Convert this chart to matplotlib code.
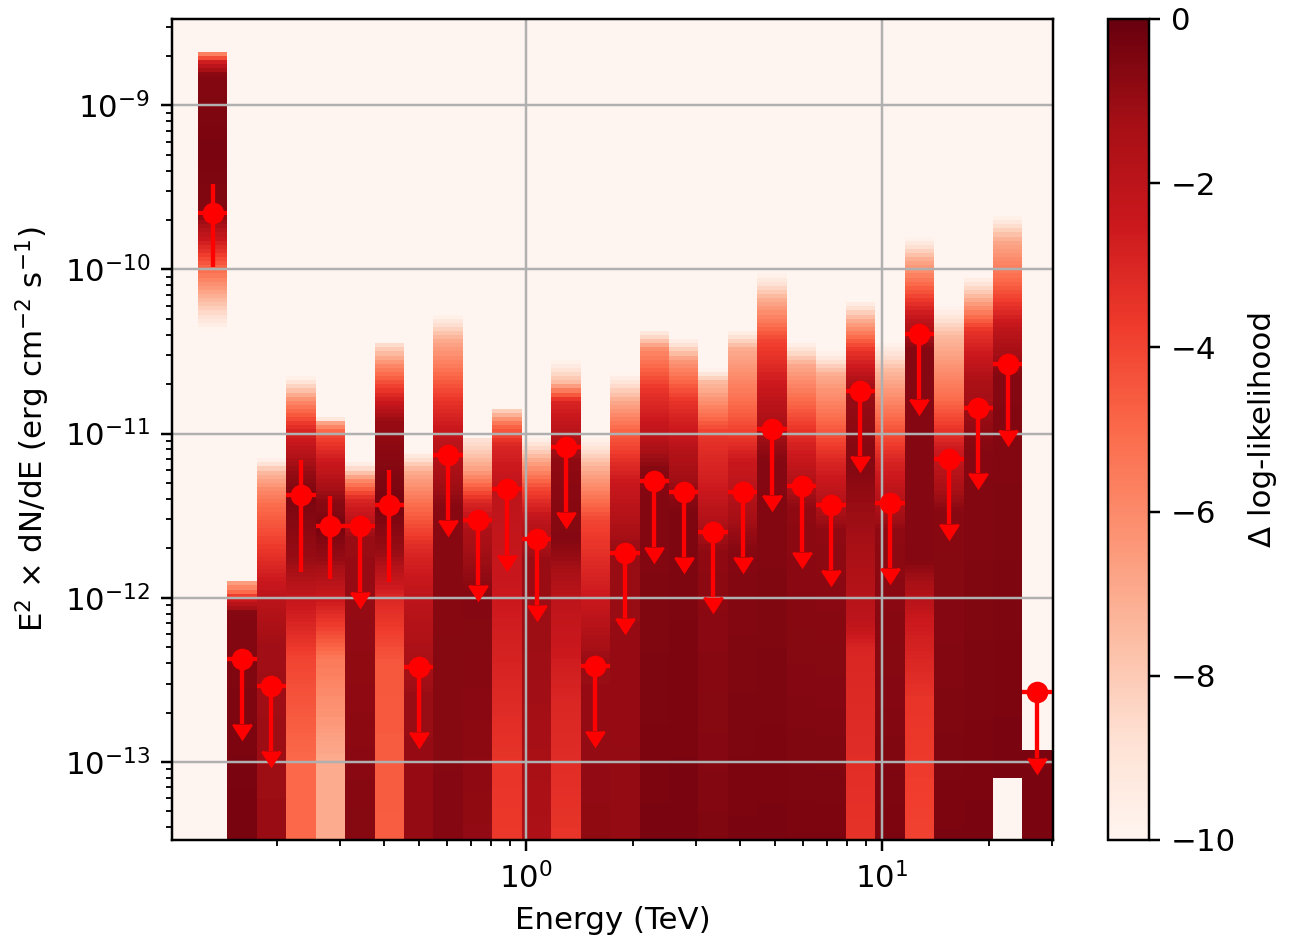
import numpy as np
import matplotlib.pyplot as plt

# energy bins (TeV): 29 log-spaced bins up to 30 TeV
e_edges = np.geomspace(0.12, 30.0, 30)
e_center = np.sqrt(e_edges[1:] * e_edges[:-1])

# E^2 dN/dE values (erg cm-2 s-1); upper limits flagged in is_ul
flux = [2.21e-10, 4.24e-13, 2.90e-13, 4.25e-12, 2.72e-12, 2.72e-12, 3.67e-12,
        3.81e-13, 7.39e-12, 2.99e-12, 4.57e-12, 2.27e-12, 8.28e-12, 3.86e-13,
        1.88e-12, 5.12e-12, 4.43e-12, 2.52e-12, 4.43e-12, 1.06e-11, 4.78e-12,
        3.67e-12, 1.82e-11, 3.79e-12, 4.04e-11, 7.00e-12, 1.43e-11, 2.64e-11,
        2.65e-13]
is_ul = [False, True, True, False, False, True, False] + [True] * 22
# 1 sigma range for the detected bins (None for upper limits)
flux_lo = [1.03e-10, None, None, 1.44e-12, 1.31e-12, None, 1.25e-12] + [None] * 22
flux_hi = [3.33e-10, None, None, 6.95e-12, 4.14e-12, None, 6.03e-12] + [None] * 22

# likelihood scan per bin: log10(E^2 dN/dE) and delta log-likelihood
scan_logflux = [
    [-10.37, -10.19, -10.0, -9.82, -9.67, -9.27, -8.82, -8.74, -8.683],
    [-13.6, -12.09, -12.01, -11.965, -11.898],
    [-13.6, -12.27, -11.99, -11.86, -11.67, -11.45, -11.34, -11.23, -11.15],
    [-13.6, -12.99, -12.38, -12.01, -11.77, -11.38, -11.22, -10.98, -10.80, -10.65],
    [-13.6, -12.99, -12.38, -12.01, -11.77, -11.57, -11.405, -11.174, -11.015, -10.93, -10.906],
    [-13.6, -11.636, -11.405, -11.283, -11.174],
    [-13.6, -12.40, -11.99, -11.72, -11.44, -10.92, -10.80, -10.58, -10.443],
    [-13.6, -12.62, -12.01, -11.72, -11.45, -11.23, -11.107],
    [-13.6, -11.45, -11.04, -10.80, -10.43, -10.27],
    [-13.6, -11.99, -11.59, -11.42, -11.23, -11.07, -11.015],
    [-13.6, -12.99, -12.01, -11.34, -11.07, -10.95, -10.851],
    [-13.6, -12.62, -11.77, -11.53, -11.34, -11.16, -11.015],
    [-13.6, -12.62, -12.01, -11.65, -11.17, -10.80, -10.69, -10.55],
    [-13.6, -12.38, -11.99, -11.53, -11.22, -11.015],
    [-13.6, -11.71, -11.28, -11.015, -10.80, -10.632],
    [-13.6, -11.22, -11.015, -10.735, -10.49, -10.364],
    [-13.6, -11.47, -11.10, -10.80, -10.55, -10.419],
    [-13.6, -11.72, -11.34, -11.015, -10.906, -10.686, -10.607],
    [-13.6, -11.72, -11.16, -10.906, -10.49, -10.364],
    [-13.6, -11.17, -10.80, -10.43, -10.19, -10.023],
    [-13.6, -11.45, -11.04, -10.80, -10.577, -10.443],
    [-13.6, -11.59, -11.17, -10.92, -10.644, -10.498],
    [-13.6, -12.32, -12.14, -11.17, -10.741, -10.498, -10.31, -10.187],
    [-13.6, -11.59, -11.16, -10.906, -10.613, -10.443],
    [-13.6, -12.62, -12.14, -11.77, -10.49, -10.31, -10.126, -9.944, -9.804],
    [-13.6, -11.47, -11.10, -10.796, -10.40, -10.224],
    [-13.6, -11.10, -10.674, -10.37, -10.187, -10.035],
    [-13.091, -10.644, -10.37, -10.065, -9.822, -9.670],
    [-13.6, -12.927],
]
scan_dloglike = [
    [-10, -7.5, -5, -2.5, -0.6, -0.4, -0.6, -2.5, -6],
    [-0.3, -0.6, -2.5, -5, -7],
    [-1.0, -1.2, -2.0, -2.7, -3.8, -5.0, -6.0, -7.5, -10],
    [-5, -5, -4, -2.3, -1, -0.4, -1, -3, -6, -10],
    [-7, -7, -5.5, -2.5, -1, -0.3, -0.8, -2.5, -4, -7, -10],
    [-0.6, -1, -3, -6, -10],
    [-4.7, -4.5, -3, -1, -0.3, -1, -2.5, -6, -9],
    [-0.9, -1, -2, -3, -5, -7, -10],
    [-0.6, -0.7, -2, -3.5, -7, -10],
    [-0.9, -0.6, -1.5, -3, -6.5, -8.5, -9],
    [-3.7, -3.5, -2.5, -2, -3, -5, -8.5],
    [-1.6, -1.2, -1, -2, -4, -7, -10],
    [-3.6, -3, -2, -0.6, -0.8, -3, -7.5, -10],
    [-0.8, -1, -2.5, -4, -7, -10],
    [-0.9, -1, -2.5, -4.5, -7, -10],
    [-0.4, -0.6, -2, -3.5, -6, -10],
    [-0.4, -0.5, -1.8, -3.5, -6.5, -10],
    [-0.5, -0.8, -2.5, -3.5, -5, -7.5, -10],
    [-0.4, -0.6, -2.5, -4.5, -7, -10],
    [-0.4, -0.6, -2, -4, -7, -10],
    [-0.4, -0.8, -3, -5, -7, -10],
    [-0.4, -0.8, -3, -5, -7, -10],
    [-3.5, -3, -2, -0.6, -1, -3.5, -7, -10],
    [-0.4, -0.8, -3, -5, -7.5, -10],
    [-4, -3.5, -2.5, -0.6, -0.6, -2, -4.5, -7, -10],
    [-0.4, -0.7, -2.5, -5, -7.5, -10],
    [-0.4, -0.6, -1.5, -3.5, -7, -10],
    [-0.4, -0.6, -2, -5, -7, -10],
    [-0.4, -0.4],
]

n_bins = len(flux)

# sample the scans on a common flux grid
y_edges = np.arange(-13.6, -8.38, 0.025)
y_mid = 0.5 * (y_edges[1:] + y_edges[:-1])
dll = np.full((len(y_mid), n_bins), np.nan)
for i in range(n_bins):
    dll[:, i] = np.interp(y_mid, scan_logflux[i], scan_dloglike[i],
                          left=np.nan, right=np.nan)

fig = plt.figure(figsize=(1290 / 222, 949 / 222), dpi=222)
ax = fig.add_axes([0.1333, 0.1149, 0.6829, 0.8651])
cax = fig.add_axes([0.8589, 0.1149, 0.0318, 0.8651])

cmap = plt.get_cmap('Reds')
ax.set_facecolor(cmap(0.0))
mesh = ax.pcolormesh(e_edges, 10 ** y_edges, np.ma.masked_invalid(dll),
                     cmap=cmap, vmin=-10, vmax=0, zorder=1)

x = np.array(e_center)
y = np.array(flux)
xerr = np.vstack([x - e_edges[:-1], e_edges[1:] - x])
yerr_lo = [y[i] - flux_lo[i] if not is_ul[i] else 0.6 * y[i] for i in range(n_bins)]
yerr_hi = [flux_hi[i] - y[i] if not is_ul[i] else 0.0 for i in range(n_bins)]
ax.errorbar(x, y, xerr=xerr, yerr=[yerr_lo, yerr_hi], uplims=is_ul,
            fmt='o', color='red', markersize=6, elinewidth=1.4,
            capsize=0, zorder=3)

ax.set_xscale('log')
ax.set_yscale('log')
ax.set_xlim(0.1015, 30.2)
ax.set_ylim(3.35e-14, 3.35e-9)
ax.set_xticks([1, 10])
ax.grid(True, which='major', color='#b0b0b0', linewidth=0.8)
ax.set_xlabel('Energy (TeV)')
ax.set_ylabel('E$^2$ × dN/dE (erg cm$^{-2}$ s$^{-1}$)')

cbar = fig.colorbar(mesh, cax=cax, ticks=[0, -2, -4, -6, -8, -10])
cbar.set_label('Δ log-likelihood')

fig.savefig('out.png', dpi=222)
